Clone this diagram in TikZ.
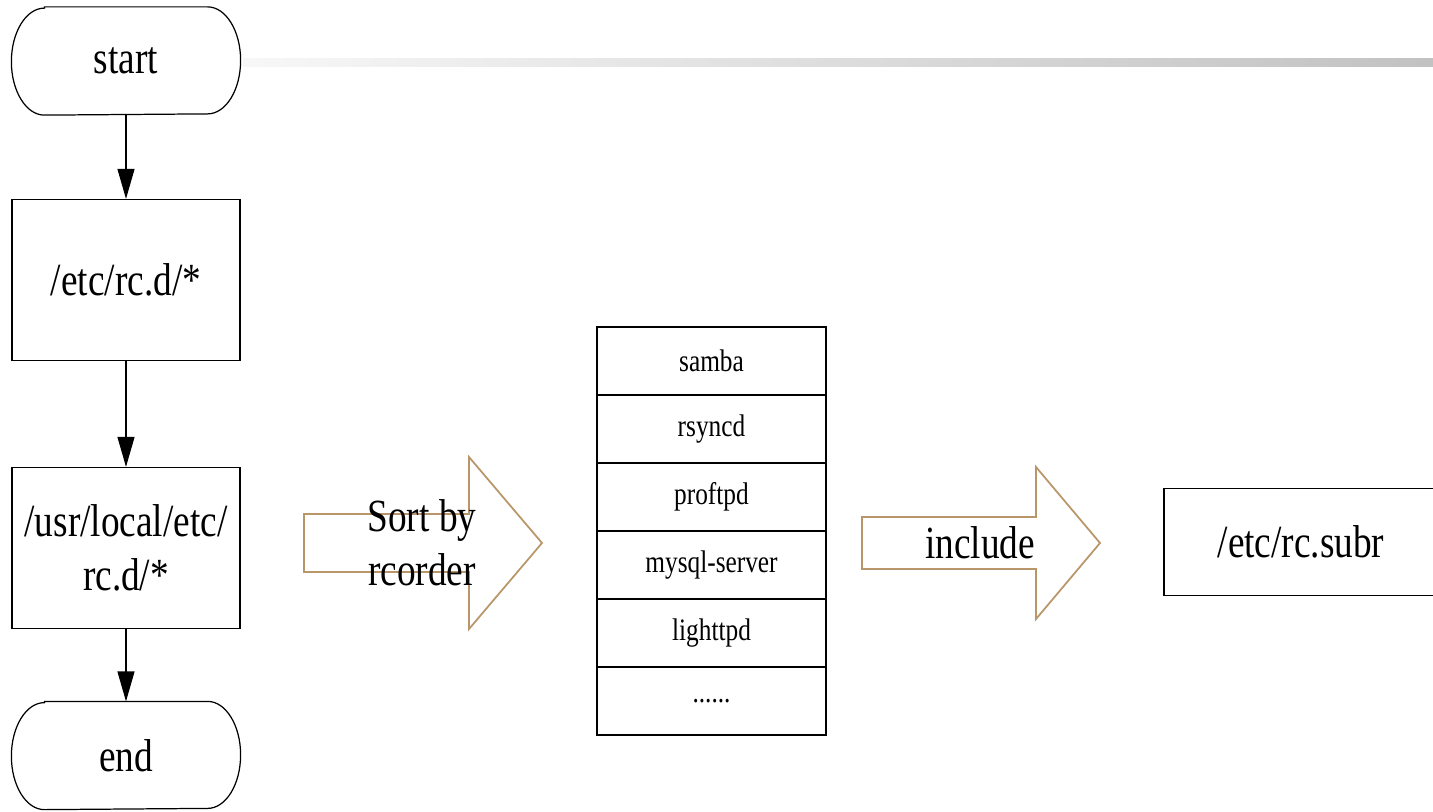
\documentclass[tikz,border=0pt]{standalone}
\usepackage{fontspec}
\setmainfont{Liberation Serif}[FakeStretch=0.81]
\usetikzlibrary{arrows.meta}
\definecolor{arrowtan}{RGB}{185,150,105}
\newcommand{\flowfont}{\fontsize{13.1}{15.4}\selectfont}
\newcommand{\listfont}{\fontsize{8.9}{10.5}\selectfont}

\begin{document}
\begin{tikzpicture}[line width=0.35pt,
		terminal/.style={rectangle,minimum width=2.28cm,minimum height=1.07cm,
			inner sep=0pt,font=\flowfont},
		procbox/.style={draw,rectangle,minimum width=2.28cm,minimum height=1.61cm,
			inner sep=0pt,align=center,font=\flowfont},
		listcell/.style={draw,rectangle,minimum width=2.29cm,minimum height=0.68cm,
			inner sep=0pt,font=\listfont},
		flow/.style={-{Triangle[length=0.30cm,width=0.17cm]}},
		blockarrow/.style={draw=arrowtan,line width=0.5pt,line join=miter}]
		\useasboundingbox (0,0) rectangle (14.33,-8.11);
		%
		\node[terminal] (start) at (1.26,-0.61) {start};
		\node[procbox] (rcd) at (1.26,-2.80) {/etc/rc.d/*};
		\node[procbox] (localrcd) at (1.26,-5.48) {/usr/local/etc/\\rc.d/*};
		\node[terminal] (stop) at (1.26,-7.555) {end};
		%
		\draw ([xshift=0.33cm]start.north west) -- ([xshift=-0.33cm]start.north east)
			arc[start angle=90,end angle=-90,x radius=0.33cm,y radius=0.535cm] --
			([xshift=0.33cm]start.south west)
			arc[start angle=270,end angle=90,x radius=0.33cm,y radius=0.535cm] -- cycle;
		\draw ([xshift=0.33cm]stop.north west) -- ([xshift=-0.33cm]stop.north east)
			arc[start angle=90,end angle=-90,x radius=0.33cm,y radius=0.535cm] --
			([xshift=0.33cm]stop.south west)
			arc[start angle=270,end angle=90,x radius=0.33cm,y radius=0.535cm] -- cycle;
		%
		\draw[flow] (start) -- (rcd);
		\draw[flow] (rcd) -- (localrcd);
		\draw[flow] (localrcd) -- (stop);
		%
		\shade[left color=black!3,right color=black!24] (2.43,-0.58) rectangle (14.33,-0.66);
		%
		\draw[blockarrow]
		(3.04,-5.14) --
			++(1.65,0) --
			++(0,0.57) --
			++(0.73,-0.86) --
			++(-0.73,-0.86) --
			++(0,0.57) --
			++(-1.65,0) --
			cycle;
		\node[font=\flowfont,align=center] (sortlbl) at (4.22,-5.43) {Sort by\\rcorder};
		%
		\node[listcell] (samba) at (7.115,-3.61) {samba};
		\node[listcell] (rsyncd) at (7.115,-4.29) {rsyncd};
		\node[listcell] (proftpd) at (7.115,-4.97) {proftpd};
		\node[listcell] (mysql) at (7.115,-5.65) {mysql-server};
		\node[listcell] (lighttpd) at (7.115,-6.33) {lighttpd};
		\node[listcell] (more) at (7.115,-7.01) {......};
		%
		\draw[blockarrow]
		(8.62,-5.17) --
			++(1.74,0) --
			++(0,0.50) --
			++(0.64,-0.76) --
			++(-0.64,-0.76) --
			++(0,0.50) --
			++(-1.74,0) --
			cycle;
		\node[font=\flowfont] (inclbl) at (9.80,-5.43) {include};
		%
		\node[draw,minimum width=2.74cm,minimum height=1.07cm,font=\flowfont] (rcsubr) at (13.01,-5.42) {/etc/rc.subr};
		%
	\end{tikzpicture}
\end{document}
